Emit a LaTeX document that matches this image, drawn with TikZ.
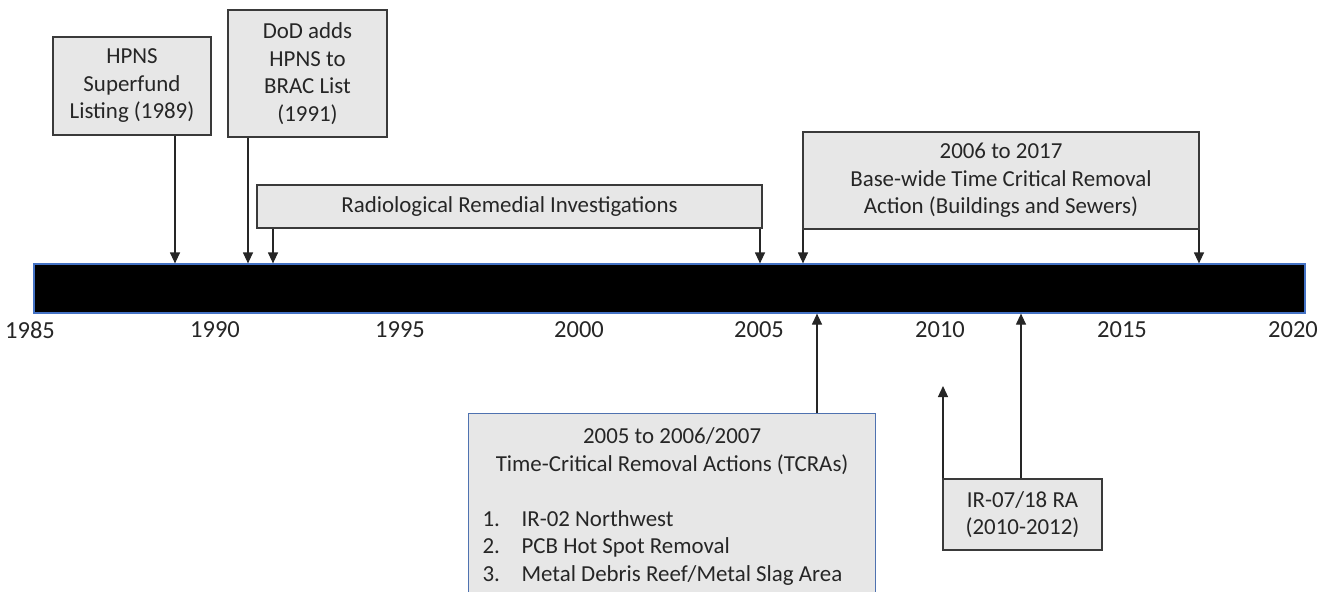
\documentclass[tikz,border=0pt]{standalone}
\usepackage{fontspec}
\setmainfont{Carlito}
\usetikzlibrary{arrows.meta}
\definecolor{boxfill}{HTML}{E7E7E7}
\definecolor{boxline}{HTML}{3A3A3A}
\definecolor{barblue}{HTML}{4472C4}
\definecolor{tcrablue}{HTML}{4F72B0}
\begin{document}
\begin{tikzpicture}[x=1pt,y=-1pt,
  evbox/.style={draw=boxline, line width=1.3pt, fill=boxfill, inner sep=0pt, align=center,
    font=\fontsize{22.9}{27.5}\selectfont, text=black!85},
  yearlbl/.style={inner sep=0pt, font=\fontsize{24.5}{28}\selectfont, text=black!85},
  arr/.style={line width=1.2pt, draw=black!85, -{Triangle[width=10pt,length=11pt]}}]
\clip (0,0) rectangle (1326,592);
\fill[white] (0,0) rectangle (1326,592);
% timeline bar
\node[draw=barblue, line width=1.2pt, fill=black, minimum width=1271pt, minimum height=49pt, inner sep=0pt] (bar) at (669.5,288.5) {};
% event boxes
\node[evbox, minimum width=158pt, minimum height=98pt] (hpns) at (132,86) {HPNS\\Superfund\\Listing (1989)};
\node[evbox, minimum width=159pt, minimum height=127pt] (dod) at (307.5,73.5) {DoD adds\\HPNS to\\BRAC List\\(1991)};
\node[evbox, minimum width=505pt, minimum height=43pt] (radio) at (509.5,206.5) {Radiological Remedial Investigations};
\node[evbox, minimum width=396pt, minimum height=97pt] (base) at (1001,180.5) {2006 to 2017\\Base-wide Time Critical Removal\\Action (Buildings and Sewers)};
\node[evbox, draw=tcrablue, line width=1.2pt, anchor=north west, minimum width=407pt, minimum height=210pt, align=left] (tcra) at (468,413)
  {\begin{minipage}[t][208pt][t]{407pt}\vspace{13pt}\centering 2005 to 2006/2007\\Time-Critical Removal Actions (TCRAs)\\[27.5pt]
   \raggedright\hspace*{14pt}\makebox[39pt][l]{1.}IR-02 Northwest\\
   \hspace*{14pt}\makebox[39pt][l]{2.}PCB Hot Spot Removal\\
   \hspace*{14pt}\makebox[39pt][l]{3.}Metal Debris Reef/Metal Slag Area\end{minipage}};
\node[evbox, minimum width=159pt, minimum height=71pt] (ir) at (1022.5,514.5) {IR-07/18 RA\\(2010-2012)};
% year labels
\node[yearlbl] (y1985) at (30,330) {1985};
\node[yearlbl] (y1990) at (215,330) {1990};
\node[yearlbl] (y1995) at (400,330) {1995};
\node[yearlbl] (y2000) at (579,330) {2000};
\node[yearlbl] (y2005) at (759,330) {2005};
\node[yearlbl] (y2010) at (940,330) {2010};
\node[yearlbl] (y2015) at (1122,330) {2015};
\node[yearlbl] (y2020) at (1293,330) {2020};
% x positions
\coordinate (x1989) at (175,0);
\coordinate (x1991a) at (248,0);
\coordinate (x1991b) at (273,0);
\coordinate (x2005) at (760,0);
\coordinate (x2006a) at (803,0);
\coordinate (x2006b) at (817,0);
\coordinate (x2012) at (1021,0);
\coordinate (x2017) at (1199,0);
\coordinate (x2010) at (943,0);
\coordinate (irend) at (943,386);
% connectors
\draw[arr] (hpns.south -| x1989) -- (bar.north -| x1989);
\draw[arr] (dod.south -| x1991a) -- (bar.north -| x1991a);
\draw[arr] (radio.south -| x1991b) -- (bar.north -| x1991b);
\draw[arr] (radio.south -| x2005) -- (bar.north -| x2005);
\draw[arr] (base.south -| x2006a) -- (bar.north -| x2006a);
\draw[arr] (base.south -| x2017) -- (bar.north -| x2017);
\draw[arr] (tcra.north -| x2006b) -- (bar.south -| x2006b);
\draw[arr] (ir.north -| x2010) -- (irend);
\draw[arr] (ir.north -| x2012) -- (bar.south -| x2012);
\end{tikzpicture}
\end{document}
